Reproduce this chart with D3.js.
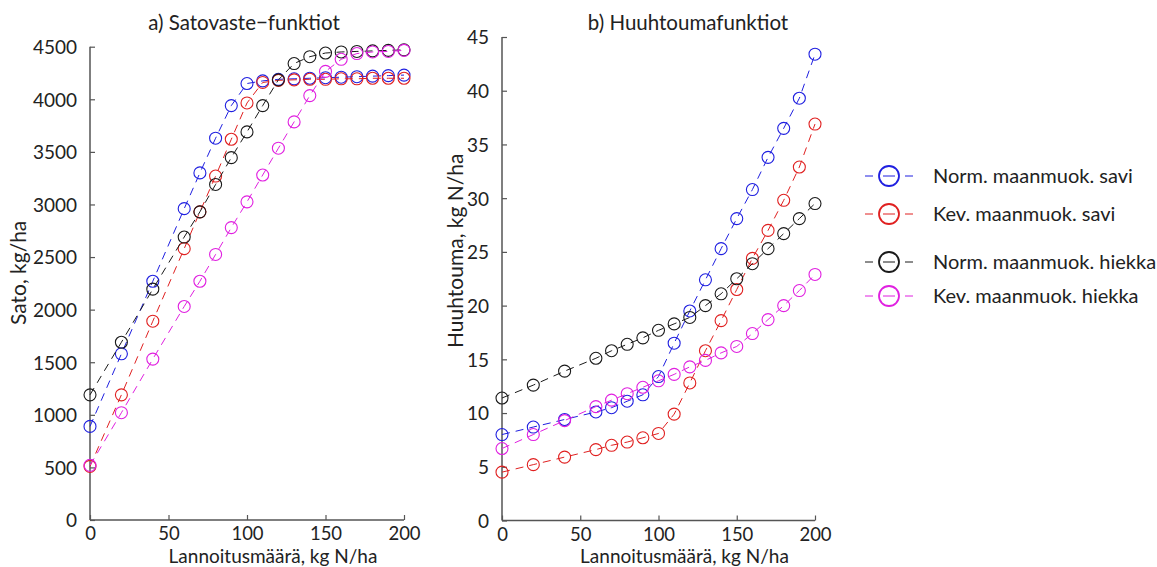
<!DOCTYPE html>
<html>
<head>
<meta charset="utf-8">
<script src="https://cdn.jsdelivr.net/npm/d3@7"></script>
<style>
  html, body { margin: 0; padding: 0; background: #fff; }
  svg { display: block; font-family: Lato, "Open Sans", sans-serif; }
</style>
</head>
<body>
<svg id="chart" width="1157" height="567"></svg>
<script>
// ---------- data ----------
const nitrogen = [0, 20, 40, 60, 70, 80, 90, 100, 110, 120, 130, 140, 150, 160, 170, 180, 190, 200];

const seriesNames = ["Norm. maanmuok. savi", "Kev. maanmuok. savi", "Norm. maanmuok. hiekka", "Kev. maanmuok. hiekka"];
const seriesColors = ["#1f1fe0", "#e02020", "#1a1a1a", "#e020e0"];

// a) yield response, kg/ha
const yieldNormSavi   = [890, 1580, 2270, 2960, 3300, 3630, 3940, 4150, 4175, 4190, 4195, 4200, 4205, 4210, 4215, 4220, 4225, 4230];
const yieldKevSavi    = [510, 1190, 1890, 2580, 2930, 3270, 3620, 3965, 4160, 4180, 4185, 4190, 4190, 4195, 4195, 4200, 4200, 4200];
const yieldNormHiekka = [1190, 1690, 2195, 2690, 2930, 3190, 3445, 3690, 3940, 4185, 4340, 4405, 4440, 4450, 4455, 4460, 4465, 4470];
const yieldKevHiekka  = [520, 1020, 1530, 2030, 2270, 2525, 2780, 3025, 3280, 3535, 3785, 4035, 4265, 4380, 4435, 4450, 4455, 4465];

// b) nitrogen leaching, kg N/ha
const leachNormSavi   = [8.0, 8.7, 9.4, 10.1, 10.5, 11.1, 11.7, 13.4, 16.5, 19.5, 22.4, 25.3, 28.1, 30.8, 33.8, 36.5, 39.3, 43.4];
const leachKevSavi    = [4.5, 5.2, 5.9, 6.6, 7.0, 7.3, 7.7, 8.1, 9.9, 12.8, 15.8, 18.6, 21.5, 24.4, 27.0, 29.8, 32.9, 36.9];
const leachNormHiekka = [11.4, 12.6, 13.9, 15.1, 15.8, 16.4, 17.0, 17.7, 18.3, 18.9, 20.0, 21.1, 22.5, 23.9, 25.3, 26.7, 28.1, 29.5];
const leachKevHiekka  = [6.7, 8.0, 9.3, 10.6, 11.2, 11.8, 12.4, 13.0, 13.6, 14.3, 14.9, 15.6, 16.2, 17.4, 18.7, 20.0, 21.4, 22.9];

const xTicks = [0, 50, 100, 150, 200];
const yTicksA = [0, 500, 1000, 1500, 2000, 2500, 3000, 3500, 4000, 4500];
const yTicksB = [0, 5, 10, 15, 20, 25, 30, 35, 40, 45];

const titleA = "a) Satovaste\u2212funktiot";
const titleB = "b) Huuhtoumafunktiot";
const xLabel = "Lannoitusmäärä, kg N/ha";
const yLabelA = "Sato, kg/ha";
const yLabelB = "Huuhtouma, kg N/ha";

// ---------- drawing ----------
const svg = d3.select("#chart");
const axisColor = "#555";
const textColor = "#222";

function panel(opts) {
  const x = d3.scaleLinear().domain([0, 200]).range([opts.left, opts.right]);
  const y = d3.scaleLinear().domain([0, opts.ymax]).range([opts.bottom, opts.top]);
  const g = svg.append("g");

  // y axis
  const ya = g.append("g").attr("transform", `translate(${opts.left},0)`)
    .call(d3.axisLeft(y).tickValues(opts.yTicks).tickSize(-5).tickPadding(13).tickFormat(d3.format("d")));
  // x axis
  const xa = g.append("g").attr("transform", `translate(0,${opts.bottom})`)
    .call(d3.axisBottom(x).tickValues(xTicks).tickSize(-5).tickPadding(7.5).tickFormat(d3.format("d")));
  [ya, xa].forEach(a => {
    a.select(".domain").attr("stroke", axisColor).attr("stroke-width", 1.5);
    a.selectAll(".tick line").attr("stroke", axisColor).attr("stroke-width", 1.2);
    a.selectAll(".tick text").attr("fill", textColor).style("font-family", "Lato, sans-serif");
  });
  ya.selectAll(".tick text").style("font-size", "19px").attr("dy", "0.36em");
  xa.selectAll(".tick text").style("font-size", "18.5px").attr("dy", "0.68em");
  ya.select(".domain").attr("d", `M0,${opts.bottom}V${opts.top}`);
  xa.select(".domain").attr("d", `M${opts.left},0H${opts.right}`);

  // series
  const line = d3.line().x((d, i) => x(nitrogen[i])).y(d => y(d));
  opts.series.forEach((vals, si) => {
    const sg = g.append("g");
    sg.selectAll("circle").data(vals).join("circle")
      .attr("cx", (d, i) => x(nitrogen[i])).attr("cy", d => y(d)).attr("r", 6)
      .attr("fill", "none").attr("stroke", seriesColors[si]).attr("stroke-width", 1.1);
    sg.append("path").datum(vals).attr("d", line)
      .attr("fill", "none").attr("stroke", seriesColors[si]).attr("stroke-width", 1)
      .attr("stroke-dasharray", "8,6");
  });

  // title
  g.append("text").attr("x", opts.titleX).attr("y", 30).attr("text-anchor", "middle")
    .attr("fill", textColor).style("font-size", opts.titleSize + "px").text(opts.title);
  // x label
  g.append("text").attr("x", (opts.left + opts.right) / 2 + 26).attr("y", 563).attr("text-anchor", "middle")
    .attr("fill", textColor).style("font-size", "19px").text(xLabel);
  // y label
  g.append("text").attr("transform", `translate(${opts.yLabelX},${opts.yLabelY}) rotate(-90)`)
    .attr("text-anchor", "start").attr("fill", textColor).style("font-size", "21px").text(opts.yLabel);
}

panel({ left: 90, right: 404, top: 46.7, bottom: 520, ymax: 4500, yTicks: yTicksA,
  series: [yieldNormSavi, yieldKevSavi, yieldNormHiekka, yieldKevHiekka],
  title: titleA, titleX: 244, titleSize: 20.5, yLabel: yLabelA, yLabelX: 26, yLabelY: 325 });

panel({ left: 502, right: 815, top: 37, bottom: 520.5, ymax: 45, yTicks: yTicksB,
  series: [leachNormSavi, leachKevSavi, leachNormHiekka, leachKevHiekka],
  title: titleB, titleX: 688, titleSize: 20.5, yLabel: yLabelB, yLabelX: 463, yLabelY: 348 });

// legend
const legendY = [176, 214, 262, 296];
const lg = svg.append("g").attr("transform", "translate(865,0)");
seriesNames.forEach((name, i) => {
  const row = lg.append("g").attr("transform", `translate(0,${legendY[i]})`);
  row.append("line").attr("x1", 0).attr("x2", 48).attr("y1", 0).attr("y2", 0)
    .attr("stroke", seriesColors[i]).attr("stroke-width", 1).attr("stroke-dasharray", "8,10,12,10,8");
  row.append("circle").attr("cx", 24).attr("cy", 0).attr("r", 10)
    .attr("fill", "none").attr("stroke", seriesColors[i]).attr("stroke-width", 1.8);
  row.append("text").attr("x", 68).attr("y", 0).attr("dy", "0.36em")
    .attr("fill", textColor).style("font-size", "20px").text(name);
});
</script>
</body>
</html>
